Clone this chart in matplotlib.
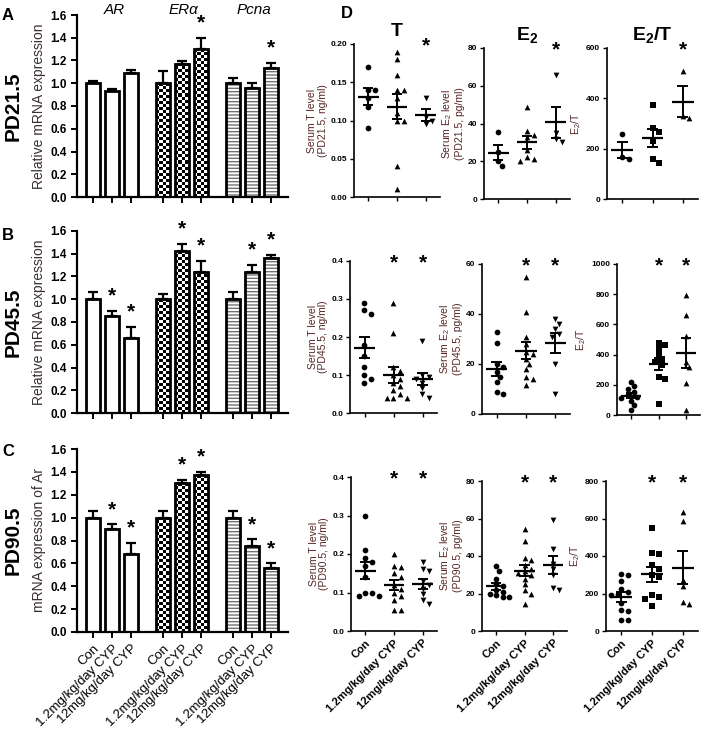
import numpy as np
import matplotlib
matplotlib.use('Agg')
import matplotlib.pyplot as plt

plt.rcParams['font.family'] = ['Liberation Sans', 'DejaVu Sans']
plt.rcParams['mathtext.default'] = 'regular'

W, H = 704, 736
fig = plt.figure(figsize=(W / 100, H / 100), dpi=100)


def px_axes(x0, y0, x1, y1):
    return fig.add_axes([x0 / W, 1 - y1 / H, (x1 - x0) / W, (y1 - y0) / H])


groups = ['Con', '1.2mg/kg/day CYP', '12mg/kg/day CYP']
genes = ['AR', 'ERα', 'Pcna']
ages = ['PD21.5', 'PD45.5', 'PD90.5']

# relative mRNA expression (mean, SEM) per gene, groups Con / 1.2 / 12
mrna_pd21 = [[1.00, 0.93, 1.09], [1.00, 1.17, 1.30], [1.00, 0.96, 1.13]]
sem_pd21 = [[0.02, 0.02, 0.03], [0.11, 0.03, 0.10], [0.05, 0.04, 0.05]]
star_pd21 = [[0, 0, 0], [0, 0, 1], [0, 0, 1]]

mrna_pd45 = [[1.00, 0.85, 0.66], [1.00, 1.42, 1.24], [1.00, 1.24, 1.36]]
sem_pd45 = [[0.06, 0.05, 0.10], [0.05, 0.07, 0.10], [0.06, 0.06, 0.03]]
star_pd45 = [[0, 1, 1], [0, 1, 1], [0, 1, 1]]

mrna_pd90 = [[1.00, 0.90, 0.68], [1.00, 1.30, 1.37], [1.00, 0.75, 0.56]]
sem_pd90 = [[0.06, 0.04, 0.10], [0.06, 0.03, 0.03], [0.06, 0.06, 0.04]]
star_pd90 = [[0, 1, 1], [0, 1, 1], [0, 1, 1]]

# serum hormones, individual animals
t_pd21 = [[0.17, 0.14, 0.14, 0.13, 0.117, 0.09],
          [0.19, 0.18, 0.16, 0.14, 0.14, 0.13, 0.11, 0.10, 0.10, 0.04, 0.01],
          [0.13, 0.105, 0.10, 0.095]]
e2_pd21 = [[35.5, 25, 20, 17.5],
           [48.5, 36, 34, 33, 26, 22, 21, 20],
           [65.5, 35, 32, 30]]
ratio_pd21 = [[258, 168, 160],
              [374, 282, 268, 230, 158, 142],
              [510, 328, 322]]

t_pd45 = [[0.29, 0.27, 0.26, 0.18, 0.15, 0.12, 0.10, 0.09, 0.08],
          [0.29, 0.21, 0.12, 0.11, 0.10, 0.09, 0.08, 0.07, 0.06, 0.05, 0.04, 0.04, 0.04],
          [0.19, 0.10, 0.095, 0.09, 0.08, 0.065, 0.05, 0.04]]
e2_pd45 = [[33, 28.5, 20, 19, 17, 15, 13, 9, 8],
           [55, 41, 31, 28, 25, 24, 22, 20, 18, 15, 14, 11.5],
           [38, 36, 34, 32, 31, 20, 8]]
ratio_pd45 = [[220, 190, 175, 150, 130, 120, 110, 95, 65, 30],
              [478, 462, 440, 400, 370, 350, 330, 250, 240, 75],
              [795, 662, 520, 350, 320, 210, 32]]

t_pd90 = [[0.30, 0.21, 0.19, 0.18, 0.17, 0.14, 0.10, 0.10, 0.09, 0.09],
          [0.20, 0.17, 0.165, 0.15, 0.14, 0.12, 0.11, 0.10, 0.09, 0.08, 0.055, 0.055],
          [0.18, 0.16, 0.155, 0.13, 0.12, 0.11, 0.095, 0.08, 0.07]]
e2_pd90 = [[34.5, 32, 28, 25, 24, 22, 21, 20, 19, 18, 18],
           [54.5, 48, 39, 38, 35, 33, 32, 31, 30, 28, 25, 22, 20, 14.5],
           [59, 44, 36, 33, 30, 23, 22]]
ratio_pd90 = [[305, 300, 265, 225, 210, 200, 190, 150, 110, 105, 60, 60],
              [550, 415, 410, 350, 330, 300, 290, 190, 180, 170, 135],
              [635, 585, 270, 240, 155, 145]]

star_scatter = [[0, 0, 1], [0, 1, 1], [0, 1, 1]]

label_col = '#3a2f33'
serum_col = '#552626'


def style_axes(ax, lw):
    for s in ['top', 'right']:
        ax.spines[s].set_visible(False)
    for s in ['left', 'bottom']:
        ax.spines[s].set_linewidth(lw)


def bar_panel(ax, means, sems, stars, show_labels, ylabel):
    gap = 3.685
    pos = [g * gap + i for g in range(3) for i in range(3)]
    ax.set_xlim(-0.84, 10.26)
    ax.set_ylim(0, 1.6)
    style_axes(ax, 1.6)
    for g in range(3):
        xs = [g * gap + i for i in range(3)]
        bars = ax.bar(xs, means[g], width=0.7, color='white', edgecolor='black',
                      linewidth=0, zorder=1)
        for b in bars:
            x0, w, h = b.get_x(), b.get_width(), b.get_height()
            if g == 1:
                # checkerboard fill for ERα
                p0 = ax.transData.transform((x0, 0))
                p1 = ax.transData.transform((x0 + w, h))
                nx = max(1, int(round((p1[0] - p0[0]) / 3.0)))
                ny = max(1, int(round((p1[1] - p0[1]) / 3.0)))
                cells = np.add.outer(np.arange(ny), np.arange(nx)) % 2
                ax.imshow(cells, extent=(x0, x0 + w, 0, h), cmap='gray',
                          interpolation='nearest', aspect='auto', origin='lower',
                          zorder=1.5)
            elif g == 2:
                ax.bar(x0 + w / 2, h, width=w, color='white', edgecolor='0.45',
                       hatch='-----', linewidth=0, zorder=1.5)
        ax.bar(xs, means[g], width=0.7, color='none', edgecolor='black',
               linewidth=2.0, zorder=3)
        ax.errorbar(xs, means[g], yerr=[np.zeros(3), sems[g]], fmt='none',
                    ecolor='black', elinewidth=1.6, capsize=3.5, capthick=1.6,
                    zorder=2.5)
        for i in range(3):
            if stars[g][i]:
                ax.text(xs[i], means[g][i] + sems[g][i] + 0.13, '*', ha='center',
                        va='center', fontsize=15, fontweight='bold', clip_on=False)
    ax.set_xlim(-0.84, 10.26)
    ax.set_ylim(0, 1.6)
    ax.set_yticks(np.arange(0, 1.61, 0.2))
    ax.set_yticklabels(['%.1f' % v for v in np.arange(0, 1.61, 0.2)],
                       fontsize=8.5, fontweight='bold')
    ax.set_xticks(pos)
    if show_labels:
        ax.set_xticklabels(groups * 3, rotation=45, ha='right',
                           rotation_mode='anchor', fontsize=9.5)
    else:
        ax.set_xticklabels([])
    ax.tick_params(width=1.4, length=4)
    ax.set_ylabel(ylabel, fontsize=10, color=label_col, labelpad=3)


def swarm_x(ax, xc, vals, d_px):
    placed = []
    xs = []
    x_px = ax.transData.transform((xc, 0))[0]
    for v in vals:
        py = ax.transData.transform((xc, v))[1]
        for k in [0, 1, -1, 2, -2, 3, -3, 4, -4]:
            px = x_px + k * d_px * 0.6
            if all((px - qx) ** 2 + (py - qy) ** 2 >= d_px ** 2 for qx, qy in placed):
                break
        placed.append((px, py))
        xs.append(ax.transData.inverted().transform((px, py))[0])
    return xs


markers_tset = ['o', '^', 'v']
markers_ratio = ['o', 's', '^']


def scatter_panel(ax, data, ymax, step, fmt, markers, stars, ylabel, show_labels):
    ax.set_xlim(-0.5, 2.5)
    ax.set_ylim(0, ymax)
    style_axes(ax, 1.2)
    for g in range(3):
        vals = sorted(data[g], reverse=True)
        xs = swarm_x(ax, g, vals, 5.5)
        ax.scatter(xs, vals, marker=markers[g], s=17, color='black',
                   linewidths=0, zorder=3, clip_on=False)
        m = np.mean(vals)
        s = np.std(vals, ddof=1) / np.sqrt(len(vals))
        ax.hlines(m, g - 0.36, g + 0.36, color='black', lw=1.6, zorder=4)
        ax.vlines(g, m - s, m + s, color='black', lw=1.4, zorder=4)
        ax.hlines([m - s, m + s], g - 0.18, g + 0.18, color='black', lw=1.4, zorder=4)
        if stars[g]:
            ax.text(g, ymax * 0.985, '*', ha='center', va='center', fontsize=15,
                    fontweight='bold', clip_on=False)
    ticks = np.arange(0, ymax + step / 2, step)
    ax.set_yticks(ticks)
    ax.set_yticklabels([fmt % v for v in ticks], fontsize=6, fontweight='bold')
    ax.set_xticks([0, 1, 2])
    if show_labels:
        ax.set_xticklabels(groups, rotation=45, ha='right', rotation_mode='anchor',
                           fontsize=8, fontweight='bold')
    else:
        ax.set_xticklabels([])
    ax.tick_params(width=1.0, length=3, pad=2)
    ax.set_ylabel(ylabel, fontsize=7.5, color=serum_col, labelpad=2, linespacing=1.1)


# bar charts A-C
bar_boxes = [(77, 15, 288, 197), (77, 231, 288, 413), (77, 449, 288, 632)]
bar_data = [(mrna_pd21, sem_pd21, star_pd21), (mrna_pd45, sem_pd45, star_pd45),
            (mrna_pd90, sem_pd90, star_pd90)]
bar_ylabels = ['Relative mRNA expression', 'Relative mRNA expression',
               'mRNA expression of Ar']
for r in range(3):
    ax = px_axes(*bar_boxes[r])
    bar_panel(ax, *bar_data[r], show_labels=(r == 2), ylabel=bar_ylabels[r])
    if r == 0:
        for g in range(3):
            ax.text(g * 3.685 + 1.1, 1.645, genes[g], ha='center', va='center',
                    fontsize=11, style='italic', clip_on=False)

for r, (lab, yc, ly) in enumerate(zip('ABC', [106, 322, 540], [16, 236, 452])):
    fig.text(13 / W, 1 - yc / H, ages[r], rotation=90, ha='center', va='center',
             fontsize=15, fontweight='bold')
    fig.text(8 / W, 1 - ly / H, lab, ha='center', va='center', fontsize=12,
             fontweight='bold')
fig.text(347 / W, 1 - 14 / H, 'D', ha='center', va='center', fontsize=12,
         fontweight='bold')

# scatter panels D
sc_boxes = [
    [(354, 44, 440, 197), (484, 48, 570, 199), (607, 48, 698, 199)],
    [(350, 261, 437, 413), (482, 264, 570, 414), (617, 264, 700, 415)],
    [(351, 477, 437, 631), (482, 481, 567, 631), (606, 481, 698, 631)],
]
sc_data = [[t_pd21, e2_pd21, ratio_pd21], [t_pd45, e2_pd45, ratio_pd45],
           [t_pd90, e2_pd90, ratio_pd90]]
sc_limits = [[(0.20, 0.05, '%.2f'), (80, 20, '%d'), (600, 200, '%d')],
             [(0.4, 0.1, '%.1f'), (60, 20, '%d'), (1000, 200, '%d')],
             [(0.4, 0.1, '%.1f'), (80, 20, '%d'), (800, 200, '%d')]]
titles = ['T', 'E$_2$', 'E$_2$/T']
for r in range(3):
    for c in range(3):
        ax = px_axes(*sc_boxes[r][c])
        ymax, step, fmt = sc_limits[r][c]
        if c == 0:
            ylab = 'Serum T level\n(%s, ng/ml)' % ages[r]
        elif c == 1:
            ylab = 'Serum E$_2$ level\n(%s, pg/ml)' % ages[r]
        else:
            ylab = 'E$_2$/T'
        mk = markers_ratio if c == 2 else markers_tset
        scatter_panel(ax, sc_data[r][c], ymax, step, fmt, mk, star_scatter[r],
                      ylab, show_labels=(r == 2))
        if r == 0:
            ax.set_title(titles[c], fontsize=14, fontweight='bold', pad=6)

fig.savefig('out.png', dpi=100)
